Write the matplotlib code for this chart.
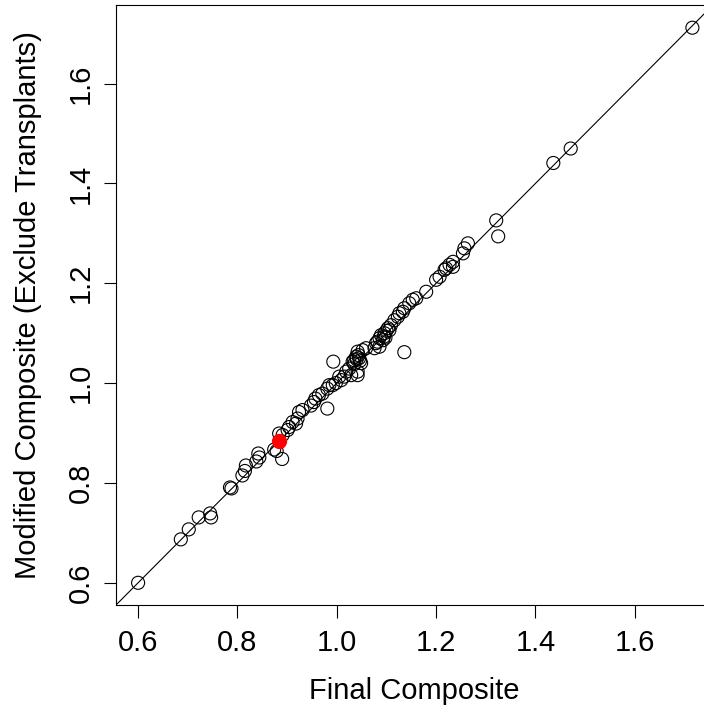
"""
plot.py
Final composite vs modified composite (transplants excluded), 1:1 line.
"""

import matplotlib
matplotlib.use("Agg")
import matplotlib.pyplot as plt

# values
final_composite = [
    0.600, 0.686, 0.702, 0.722, 0.745, 0.747, 0.785, 0.788, 0.810, 0.815,
    0.817, 0.838, 0.844, 0.842, 0.874, 0.879, 0.890, 0.884, 0.891, 0.901,
    0.904, 0.911, 0.918, 0.921, 0.924, 0.931, 0.948, 0.954, 0.957, 0.964,
    0.971, 0.981, 0.981, 0.985, 0.992, 0.993, 0.998, 1.005, 1.009, 1.015,
    1.019, 1.025, 1.029, 1.032, 1.035, 1.035, 1.039, 1.040, 1.042, 1.042,
    1.042, 1.044, 1.045, 1.047, 1.049, 1.052, 1.059, 1.076, 1.079, 1.082,
    1.086, 1.086, 1.089, 1.093, 1.095, 1.096, 1.098, 1.100, 1.103, 1.106,
    1.109, 1.116, 1.123, 1.126, 1.133, 1.136, 1.136, 1.146, 1.153, 1.160,
    1.180, 1.200, 1.207, 1.217, 1.220, 1.227, 1.234, 1.234, 1.254, 1.257,
    1.264, 1.321, 1.325, 1.436, 1.471, 1.716,
]
modified_composite = [
    0.600, 0.687, 0.707, 0.731, 0.739, 0.731, 0.791, 0.789, 0.815, 0.824,
    0.835, 0.843, 0.851, 0.859, 0.867, 0.864, 0.848, 0.899, 0.896, 0.906,
    0.912, 0.922, 0.919, 0.929, 0.942, 0.946, 0.955, 0.962, 0.969, 0.976,
    0.979, 0.949, 0.989, 0.996, 0.996, 1.043, 1.000, 1.013, 1.006, 1.013,
    1.023, 1.029, 1.016, 1.043, 1.046, 1.038, 1.053, 1.048, 1.016, 1.023,
    1.063, 1.056, 1.050, 1.045, 1.040, 1.066, 1.070, 1.070, 1.080, 1.083,
    1.073, 1.090, 1.096, 1.086, 1.093, 1.100, 1.091, 1.105, 1.110, 1.106,
    1.116, 1.126, 1.133, 1.140, 1.143, 1.150, 1.062, 1.160, 1.167, 1.170,
    1.183, 1.207, 1.213, 1.227, 1.230, 1.237, 1.233, 1.243, 1.260, 1.270,
    1.280, 1.326, 1.294, 1.441, 1.470, 1.712,
]

# highlighted unit
highlight_x = [0.884]
highlight_y = [0.884]

ticks = [0.6, 0.8, 1.0, 1.2, 1.4, 1.6]
tick_labels = ["0.6", "0.8", "1.0", "1.2", "1.4", "1.6"]

LIMITS = (0.5555, 1.7575)
FONT = ["Liberation Sans", "DejaVu Sans"]


def make_plot(filename):
    plt.rcParams["font.family"] = FONT
    fig = plt.figure(figsize=(7.04, 7.09), dpi=100)
    # right edge of the box falls just outside the picture, as in the original
    ax = fig.add_axes([116 / 704, 104 / 709, 597 / 704, 600 / 709])

    ax.plot(LIMITS, LIMITS, color="black", lw=0.8, zorder=1)
    ax.scatter(final_composite, modified_composite, s=88, facecolors="none",
               edgecolors="black", linewidths=0.8, zorder=2)
    ax.scatter(highlight_x, highlight_y, s=100, color="red", zorder=3)

    ax.set_xlim(LIMITS)
    ax.set_ylim(LIMITS)

    ax.set_xticks(ticks)
    ax.set_xticklabels(tick_labels)
    ax.set_yticks(ticks)
    ax.set_yticklabels(tick_labels, rotation=90, va="center")
    ax.tick_params(axis="both", length=9, width=0.8, labelsize=21)
    ax.tick_params(axis="x", pad=8)
    ax.tick_params(axis="y", pad=6)

    for spine in ax.spines.values():
        spine.set_linewidth(0.8)

    ax.set_xlabel("Final Composite", fontsize=21, labelpad=15)
    ax.set_ylabel("Modified Composite (Exclude Transplants)", fontsize=21,
                  labelpad=18)

    fig.savefig(filename, dpi=100)
    plt.close(fig)


if __name__ == "__main__":
    make_plot("out.png")
